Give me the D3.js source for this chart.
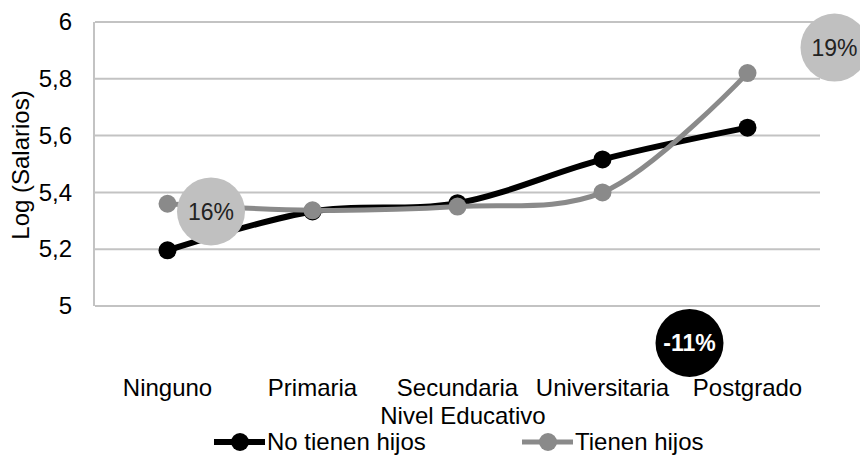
<!DOCTYPE html>
<html>
<head>
<meta charset="utf-8">
<script src="https://cdn.jsdelivr.net/npm/d3@7"></script>
<style>
  body { margin: 0; background: #fff; }
  svg text { font-family: "Liberation Sans", Arial, sans-serif; fill: #000; }
</style>
</head>
<body>
<svg id="chart" width="860" height="456"></svg>
<script>
var CATEGORIES = ["Ninguno", "Primaria", "Secundaria", "Universitaria", "Postgrado"];
var NO_HIJOS = [5.196, 5.333, 5.362, 5.516, 5.628];
var CON_HIJOS = [5.36, 5.337, 5.35, 5.40, 5.82];
var Y_TICKS = [5, 5.2, 5.4, 5.6, 5.8, 6];

// bubbles: label, category they sit next to, value on the y axis
var BUBBLE_LABELS = ["16%", "19%", "-11%"];
var BUBBLE_CATS = ["Ninguno", "Postgrado", "Universitaria"];
var BUBBLE_SHIFT = [0.3, 0.6, 0.6];
var BUBBLE_VALUES = [5.333, 5.91, 4.87];

document.addEventListener("DOMContentLoaded", function() {
  drawChart();
})

function drawChart() {
  const svg = d3.select("#chart");
  const left = 95, right = 820, top = 22, bottom = 306;
  const fs = 24;

  const x = d3.scaleBand().domain(CATEGORIES).range([left, right]);
  const y = d3.scaleLinear().domain([5, 6]).range([bottom, top]);
  const cx = (c) => x(c) + x.bandwidth() / 2;

  // grid
  svg.append("g").selectAll("line")
    .data(Y_TICKS)
    .enter().append("line")
    .attr("x1", left).attr("x2", right)
    .attr("y1", (d) => y(d)).attr("y2", (d) => y(d))
    .attr("stroke", "#c3c3c3").attr("stroke-width", 2);

  svg.append("line")
    .attr("x1", left - 1).attr("x2", left - 1)
    .attr("y1", top).attr("y2", bottom)
    .attr("stroke", "#c3c3c3").attr("stroke-width", 2);

  // y axis labels
  const yAxis = d3.axisLeft(y).tickValues(Y_TICKS).tickSize(0).tickPadding(0)
    .tickFormat((d) => d3.format("~g")(d).replace(".", ","));
  const ya = svg.append("g").attr("transform", "translate(72,0)").call(yAxis);
  ya.select(".domain").remove();
  ya.selectAll("text").attr("font-size", fs).attr("font-family", "Liberation Sans, Arial, sans-serif").attr("fill", "#000");

  // x axis labels
  const xAxis = d3.axisBottom(x).tickSize(0).tickPadding(0);
  const xa = svg.append("g").attr("transform", "translate(0,379)").call(xAxis);
  xa.select(".domain").remove();
  xa.selectAll("text").attr("font-size", fs).attr("font-family", "Liberation Sans, Arial, sans-serif").attr("fill", "#000").attr("dy", "0.71em");

  svg.append("text")
    .attr("x", 463).attr("y", 424)
    .attr("text-anchor", "middle")
    .attr("font-size", fs)
    .text("Nivel Educativo");

  svg.append("text")
    .attr("transform", "translate(29,165) rotate(-90)")
    .attr("text-anchor", "middle")
    .attr("font-size", fs)
    .text("Log (Salarios)");

  // series
  const series = [
    {name: "No tienen hijos", values: NO_HIJOS, color: "#000000", width: 6},
    {name: "Tienen hijos", values: CON_HIJOS, color: "#8a8a8a", width: 5}
  ];

  const line = d3.line()
    .x((d, i) => cx(CATEGORIES[i]))
    .y((d) => y(d))
    .curve(d3.curveCatmullRom.alpha(0.5));

  // black first, gray drawn on top
  series.forEach(function(s) {
    svg.append("path")
      .datum(s.values)
      .attr("d", line)
      .attr("fill", "none")
      .attr("stroke", s.color)
      .attr("stroke-width", s.width)
      .attr("stroke-linecap", "round");
    svg.append("g").selectAll("circle")
      .data(s.values)
      .enter().append("circle")
      .attr("cx", (d, i) => cx(CATEGORIES[i]))
      .attr("cy", (d) => y(d))
      .attr("r", 9)
      .attr("fill", s.color);
  });

  // bubbles
  BUBBLE_LABELS.forEach(function(label, i) {
    const bx = x(BUBBLE_CATS[i]) + x.bandwidth() / 2 + BUBBLE_SHIFT[i] * x.bandwidth();
    const by = y(BUBBLE_VALUES[i]);
    const dark = label.charAt(0) === "-";
    svg.append("circle")
      .attr("cx", bx).attr("cy", by).attr("r", 34)
      .attr("fill", dark ? "#000" : "#c0c0c0");
    svg.append("text")
      .attr("x", bx).attr("y", by)
      .attr("dy", "0.36em")
      .attr("text-anchor", "middle")
      .attr("font-size", 23)
      .attr("font-weight", dark ? "bold" : "normal")
      .style("fill", dark ? "#fff" : "#222")
      .text(label);
  });

  // legend
  const legendX = [214, 522];
  series.forEach(function(s, i) {
    const g = svg.append("g").attr("transform", "translate(" + legendX[i] + ",442)");
    g.append("line")
      .attr("x1", 0).attr("x2", 51)
      .attr("stroke", s.color).attr("stroke-width", s.width);
    g.append("circle").attr("cx", 26).attr("r", 9).attr("fill", s.color);
    g.append("text")
      .attr("x", 53).attr("y", 0).attr("dy", "0.34em")
      .attr("font-size", fs)
      .text(s.name);
  });
}
</script>
</body>
</html>
